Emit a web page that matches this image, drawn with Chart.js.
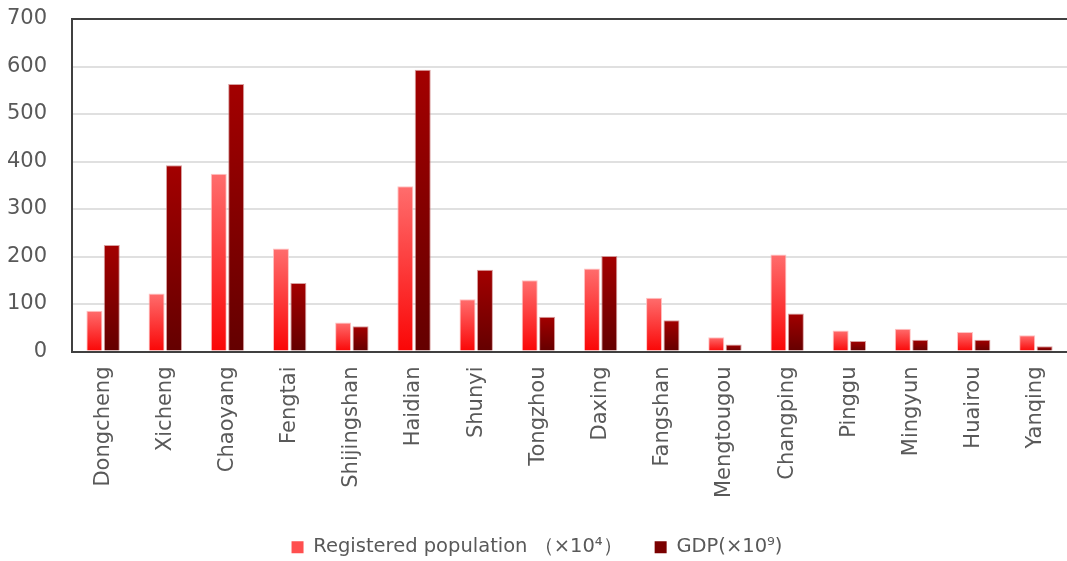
<!DOCTYPE html>
<html>
<head>
<meta charset="utf-8">
<script src="https://cdn.jsdelivr.net/npm/chart.js@4.4.1/dist/chart.umd.min.js"></script>
<style>
  html, body { margin: 0; padding: 0; background: #fff; }
  #wrap { width: 1067px; height: 561px; }
</style>
</head>
<body>
<div id="wrap"><canvas id="barChart"></canvas></div>
<script>
// districts of Beijing
var districts = ['Dongcheng', 'Xicheng', 'Chaoyang', 'Fengtai', 'Shijingshan', 'Haidian', 'Shunyi',
    'Tongzhou', 'Daxing', 'Fangshan', 'Mengtougou', 'Changping', 'Pinggu', 'Mingyun', 'Huairou', 'Yanqing'];
var population = [86, 122, 374, 217, 61, 348, 110, 150, 175, 113, 30, 204, 44, 48, 41, 34];
var gdp = [224, 392, 563, 144, 53, 593, 172, 73, 201, 66, 15, 80, 22, 25, 25, 11];
var yTicks = [0, 100, 200, 300, 400, 500, 600, 700];

var labelColor = '#595959';
var font = { family: 'DejaVu Sans', size: 21 };

// gradient from top of each bar down to the axis
function barGradient(topColor, bottomColor) {
    return function(ctx) {
        const chart = ctx.chart;
        if (!chart.chartArea || ctx.type !== 'data') return topColor;
        const y = chart.scales.y;
        const yTop = y.getPixelForValue(ctx.raw);
        const yBot = y.getPixelForValue(0);
        if (!isFinite(yTop) || yBot - yTop < 1) return bottomColor;
        const g = chart.ctx.createLinearGradient(0, yTop, 0, yBot);
        g.addColorStop(0, topColor);
        g.addColorStop(1, bottomColor);
        return g;
    };
}

var legendFill = ['#ff4f4f', '#7a0000'];

new Chart(document.getElementById('barChart'), {
    type: 'bar',
    data: {
        labels: districts,
        datasets: [
            {
                label: 'Registered population （×10⁴）',
                data: population,
                backgroundColor: barGradient('#ff6d6d', '#fa0606'),
                borderColor: 'rgba(255,190,190,0.9)',
                borderWidth: 1,
                categoryPercentage: 0.56,
                barPercentage: 0.92,
            },
            {
                label: 'GDP(×10⁹)',
                data: gdp,
                backgroundColor: barGradient('#a30000', '#640000'),
                borderColor: 'rgba(200,120,120,0.7)',
                borderWidth: 1,
                categoryPercentage: 0.56,
                barPercentage: 0.92,
            },
        ]
    },
    options: {
        responsive: true,
        maintainAspectRatio: false,
        animation: false,
        layout: { padding: { top: 19, right: 0, left: 7, bottom: -6 } },
        plugins: {
            legend: {
                display: true,
                position: 'bottom',
                labels: {
                    color: labelColor,
                    font: { family: 'DejaVu Sans', size: 19.5 },
                    boxWidth: 12,
                    boxHeight: 12,
                    padding: 32,
                    generateLabels: function(chart) {
                        const items = Chart.defaults.plugins.legend.labels.generateLabels(chart);
                        items.forEach((it, i) => {
                            it.fillStyle = legendFill[i];
                            it.strokeStyle = legendFill[i];
                            it.lineWidth = 0;
                        });
                        return items;
                    }
                }
            },
            tooltip: { enabled: false },
        },
        scales: {
            x: {
                afterFit: function(scale) {
                    scale.height = 154;
                    scale.paddingLeft = 0;
                    scale.paddingRight = 0;
                },
                grid: { display: false, drawTicks: false },
                border: { display: true, color: '#404040', width: 2 },
                ticks: {
                    color: labelColor,
                    font: font,
                    minRotation: 90,
                    maxRotation: 90,
                    padding: 15,
                    autoSkip: false,
                },
            },
            y: {
                min: 0,
                max: 700,
                afterFit: function(scale) {
                    scale.width = 65;
                    scale.paddingTop = 0;
                    scale.paddingBottom = 0;
                },
                afterBuildTicks: function(axis) {
                    axis.ticks = yTicks.map(v => ({ value: v }));
                },
                grid: {
                    drawTicks: false,
                    lineWidth: 2,
                    color: function(ctx) {
                        return ctx.tick && ctx.tick.value === 700 ? '#404040' : '#e0e0e0';
                    },
                },
                border: { display: true, color: '#404040', width: 2 },
                ticks: {
                    color: labelColor,
                    font: font,
                    padding: 25,
                },
            },
        },
    },
});
</script>
</body>
</html>
